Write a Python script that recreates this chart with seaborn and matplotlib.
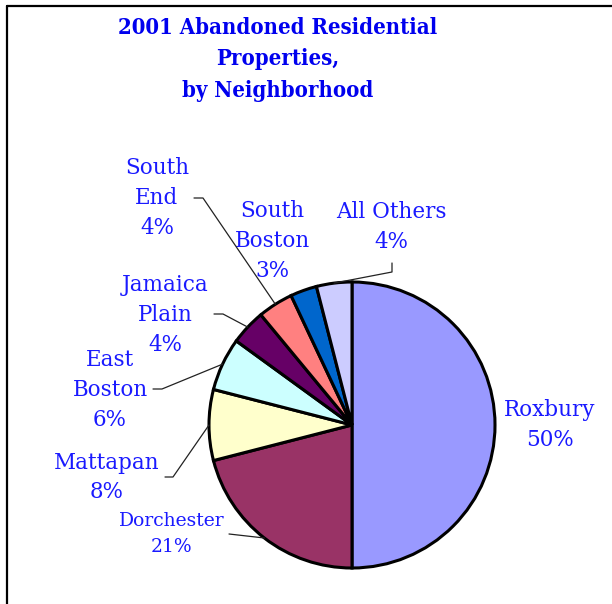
import matplotlib
matplotlib.use("Agg")
import matplotlib.pyplot as plt
import seaborn as sns
from matplotlib.lines import Line2D
from matplotlib import font_manager
import numpy as np

# ---- data ----
neighborhoods = ["Roxbury", "Dorchester", "Mattapan", "East Boston",
                 "Jamaica Plain", "South End", "South Boston", "All Others"]
percents = [50, 21, 8, 6, 4, 4, 3, 4]
label_lines = [["Roxbury", "50%"], ["Dorchester", "21%"], ["Mattapan", "8%"],
               ["East", "Boston", "6%"], ["Jamaica", "Plain", "4%"],
               ["South", "End", "4%"], ["South", "Boston", "3%"],
               ["All Others", "4%"]]
colors = ["#9999FF", "#993366", "#FFFFCC", "#CCFFFF",
          "#660066", "#FF8080", "#0066CC", "#CCCCFF"]
title_lines = ["2001 Abandoned Residential", "Properties,", "by Neighborhood"]

sns.set_theme(style="white")
plt.rcParams['font.family'] = ['DejaVu Serif']

# condensed bold serif for the title if available
has_condensed = any("DejaVuSerifCondensed-Bold" in f for f in font_manager.findSystemFonts())
title_kw = dict(fontsize=14.5, fontweight="bold")
if has_condensed:
    title_kw = dict(fontsize=15.8, fontweight="bold", fontstretch="condensed")

W, H = 612, 604
fig = plt.figure(figsize=(W / 100, H / 100), dpi=100)
fig.patch.set_facecolor("white")
ax = fig.add_axes([0, 0, 1, 1])
ax.set_xlim(0, W)
ax.set_ylim(0, H)
ax.set_aspect("equal")
ax.axis("off")

cx, cy, r = 352, H - 425, 143
palette = sns.color_palette(colors)
wedges, _ = ax.pie(percents, colors=palette, startangle=90, counterclock=False,
                   center=(cx, cy), radius=r,
                   wedgeprops=dict(edgecolor="black", linewidth=2.2))
ax.set_xlim(0, W)
ax.set_ylim(0, H)

# label layout: (x center, top line y in px, line step, font size, leader anchor or None)
layout = {
    "Roxbury": (550, 410, 30, 15.5, None),
    "Dorchester": (172, 521, 26, 13.5, [(229, 534)]),
    "Mattapan": (107, 463, 29, 15.5, [(165, 477), (173, 477)]),
    "East Boston": (110, 360, 30, 15.5, [(153, 389), (162, 389)]),
    "Jamaica Plain": (165, 285, 30, 15.5, [(214, 314), (223, 314)]),
    "South End": (157, 168, 30, 15.5, [(194, 198), (203, 198)]),
    "South Boston": (272, 211, 30, 15.5, None),
    "All Others": (391, 212, 30, 15.5, [(392, 263), (392, 272)]),
}
label_color = "#1a1aff"
for name, lines, w in zip(neighborhoods, label_lines, wedges):
    x, y0, step, fs, leader = layout[name]
    for i, ln in enumerate(lines):
        ax.text(x, H - (y0 + i * step), ln, ha="center", va="center",
                fontsize=fs, color=label_color)
    if leader is not None:
        mid = np.deg2rad((w.theta1 + w.theta2) / 2)
        ex, ey = cx + r * np.cos(mid), cy + r * np.sin(mid)
        xs = [p[0] for p in leader] + [ex]
        ys = [H - p[1] for p in leader] + [ey]
        ax.plot(xs, ys, color="#222222", lw=0.9, zorder=5)

for i, t in enumerate(title_lines):
    ax.text(278, H - (28 + i * 31.5), t, ha="center", va="center",
            color="#0000ee", **title_kw)

# frame (top and left edges)
fig.add_artist(Line2D([7 / W, 7 / W], [0, 1 - 6 / H], transform=fig.transFigure,
                      color="black", lw=1.6))
fig.add_artist(Line2D([7 / W, 1], [1 - 6 / H, 1 - 6 / H], transform=fig.transFigure,
                      color="black", lw=1.6))

fig.savefig("out.png", dpi=100, facecolor="white")
